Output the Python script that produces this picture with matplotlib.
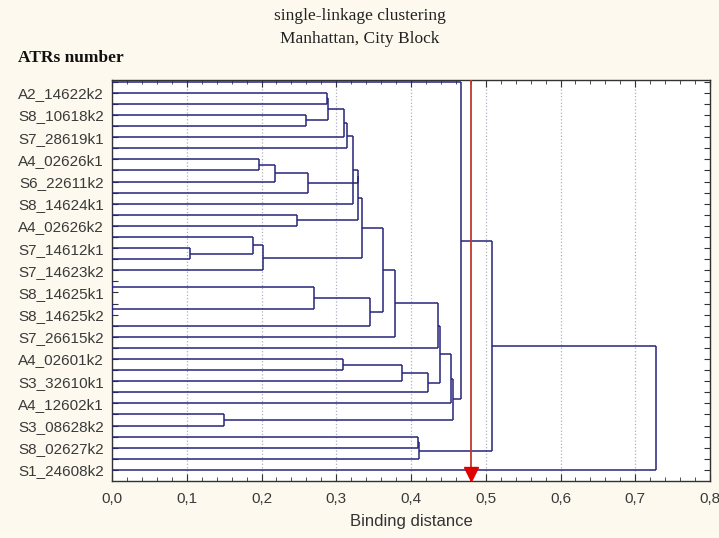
import matplotlib
matplotlib.use('Agg')
import matplotlib.pyplot as plt
from matplotlib.ticker import MultipleLocator, FixedLocator

# 36 objects on the tree, only every second one is labelled
n_leaves = 36
leaf_labels = ['A2_14622k2', 'S8_10618k2', 'S7_28619k1', 'A4_02626k1', 'S6_22611k2',
               'S8_14624k1', 'A4_02626k2', 'S7_14612k1', 'S7_14623k2', 'S8_14625k1',
               'S8_14625k2', 'S7_26615k2', 'A4_02601k2', 'S3_32610k1', 'A4_12602k1',
               'S3_08628k2', 'S8_02627k2', 'S1_24608k2']

# linkage steps: node ids 0..35 are leaves, merge k creates node 36 + k
merge_left = [18, 20, 15, 30, 14, 7, 40, 41, 12, 3, 43, 36, 1, 48, 25, 49, 51, 52,
              53, 54, 55, 47, 56, 58, 50, 32, 61, 60, 59, 64, 65, 66, 0, 68, 69]
merge_right = [19, 21, 16, 31, 38, 8, 17, 9, 13, 4, 10, 37, 2, 45, 26, 5, 6, 11,
               46, 44, 42, 22, 57, 23, 27, 33, 34, 28, 24, 63, 29, 39, 67, 62, 35]
merge_height = [0.0, 0.0, 0.104, 0.150, 0.189, 0.196, 0.2025, 0.218, 0.247, 0.260,
                0.2625, 0.270, 0.287, 0.289, 0.309, 0.3105, 0.315, 0.3225,
                0.3296, 0.3296, 0.334, 0.345, 0.362, 0.3786, 0.388, 0.409, 0.4107,
                0.4227, 0.4366, 0.4388, 0.4535, 0.4566, 0.467, 0.509, 0.728]

cut_distance = 0.48
x_ticks = [0.0, 0.1, 0.2, 0.3, 0.4, 0.5, 0.6, 0.7, 0.8]

tree_color = '#24247c'
bg_color = '#fdf9ee'

fig = plt.figure(figsize=(7.19, 5.38), dpi=100, facecolor=bg_color)
ax = fig.add_axes([0.1558, 0.1059, 0.8317, 0.7454])
ax.set_facecolor('white')

# node positions
ypos = {i: float(i) for i in range(n_leaves)}
hpos = {i: 0.0 for i in range(n_leaves)}
for k, (a, b, h) in enumerate(zip(merge_left, merge_right, merge_height)):
    node = n_leaves + k
    # horizontal links of both children up to the merge distance
    for c in (a, b):
        ax.plot([hpos[c], h], [ypos[c], ypos[c]], color=tree_color, lw=1.1,
                solid_capstyle='butt', zorder=3)
    ax.plot([h, h], [ypos[a], ypos[b]], color=tree_color, lw=1.1,
            solid_capstyle='butt', zorder=3)
    ypos[node] = (ypos[a] + ypos[b]) / 2
    hpos[node] = h

# cut line with arrow head
ax.axvline(cut_distance, color='#c0392b', lw=1.3, zorder=4)
ax.plot([cut_distance], [35.4], marker='v', markersize=10, color='#e00000',
        markeredgecolor='#e00000', zorder=5, clip_on=False)

ax.set_xlim(0, 0.8)
ax.set_ylim(36.0, -0.15)

ax.xaxis.set_major_locator(FixedLocator(x_ticks))
ax.xaxis.set_minor_locator(MultipleLocator(0.02))
ax.set_xticklabels([f'{t:.1f}'.replace('.', ',') for t in x_ticks])
ax.grid(axis='x', which='major', color='#b0b0c0', linestyle=':', lw=0.9)
ax.set_axisbelow(True)

ax.set_yticks(range(n_leaves))
ax.set_yticklabels(['' if i % 2 == 0 else leaf_labels[i // 2] for i in range(n_leaves)])

ax.tick_params(axis='both', which='both', direction='in', top=True, right=True,
               color='#333333')
ax.tick_params(axis='x', which='major', length=5, labelsize=11, labelcolor='#3a3a3a', pad=8)
ax.tick_params(axis='x', which='minor', length=3)
ax.tick_params(axis='y', length=4, labelsize=11, labelcolor='#3a3a3a', pad=6)
for lab in ax.get_xticklabels() + ax.get_yticklabels():
    lab.set_fontfamily('Liberation Sans')

for s in ax.spines.values():
    s.set_color('#333333')
    s.set_linewidth(1.0)

ax.set_xlabel('Binding distance', fontsize=12, family='Liberation Sans',
              color='#333333', labelpad=6)

fig.text(0.5, 0.970, 'single-linkage clustering', ha='center', va='center',
         fontsize=12.5, family='Liberation Serif', color='#222222')
fig.text(0.5, 0.927, 'Manhattan, City Block', ha='center', va='center',
         fontsize=12.5, family='Liberation Serif', color='#222222')
fig.text(0.025, 0.892, 'ATRs number', ha='left', va='center', fontsize=12.5,
         family='Liberation Serif', fontweight='bold', color='#111111')

fig.savefig('out.png', dpi=100, facecolor=bg_color)
